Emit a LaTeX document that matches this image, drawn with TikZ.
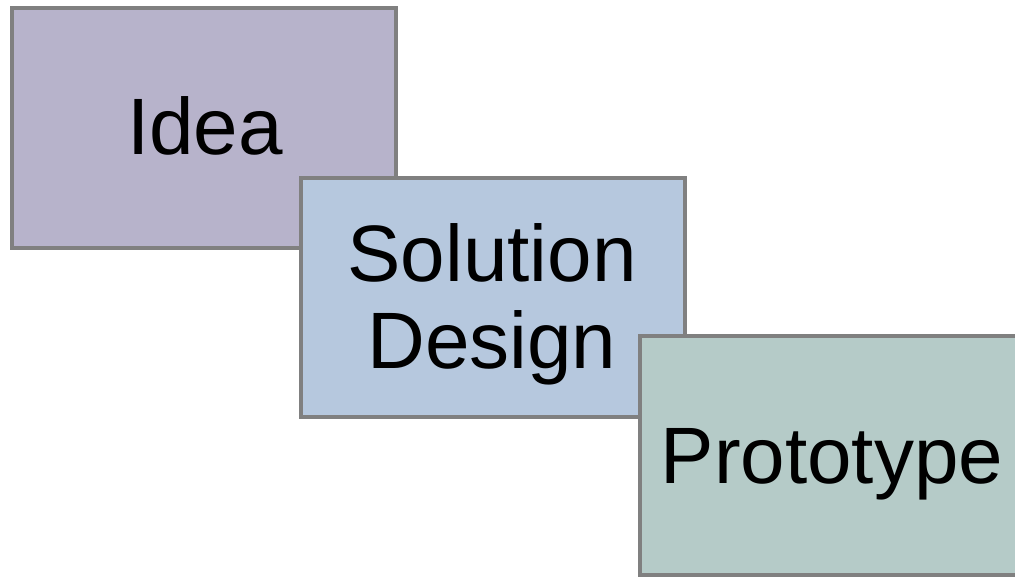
\documentclass[tikz,border=0pt]{standalone}
\usepackage{fontspec}
\setmainfont{Liberation Sans}
\definecolor{ideacol}{RGB}{183,179,203}
\definecolor{solcol}{RGB}{182,200,222}
\definecolor{protocol}{RGB}{181,203,200}
\definecolor{edgegray}{RGB}{128,128,128}
\begin{document}
\begin{tikzpicture}[x=1pt,y=-1pt,
  stagebox/.style={draw=edgegray,line width=3.2pt,inner sep=0pt,outer sep=0pt},
  stagetext/.style={font=\fontsize{80}{87}\selectfont,align=center,inner sep=0pt}]
\useasboundingbox (0,0) rectangle (1015,576);
\clip (0,0) rectangle (1015,576);
\filldraw[stagebox,fill=ideacol] (12,8) rectangle (396,248);
\node[stagetext] (idea) at (205,126) {Idea};
\filldraw[stagebox,fill=solcol] (301,178) rectangle (685,417);
\node[stagetext] (sol) at (492,304) {Solution\\Design};
\filldraw[stagebox,fill=protocol] (640,336) rectangle (1017,575);
\node[stagetext] (proto) at (832,464) {Prototype};
\end{tikzpicture}
\end{document}
